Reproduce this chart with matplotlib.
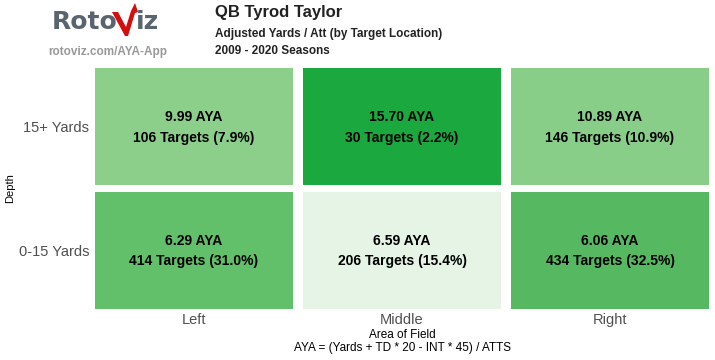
import matplotlib
matplotlib.use("Agg")
import matplotlib.pyplot as plt
from matplotlib.patches import Polygon

plt.rcParams['font.family'] = ['Liberation Sans', 'DejaVu Sans']

# Data
columns = ["Left", "Middle", "Right"]
rows = ["0-15 Yards", "15+ Yards"]
aya = [[6.29, 6.59, 6.06],
       [9.99, 15.70, 10.89]]
targets = [[414, 206, 434],
           [106, 30, 146]]
pct = [[31.0, 15.4, 32.5],
       [7.9, 2.2, 10.9]]

cell_colors = [["#63c06a", "#e5f4e4", "#56b962"],
               ["#8ccf8b", "#1aa83f", "#88cd88"]]

W, H = 715, 360
fig = plt.figure(figsize=(7.15, 3.6), dpi=100)
ax = fig.add_axes([90 / W, 1 - 312 / H, 624 / W, 247 / H])

for r in range(len(rows)):
    for c in range(len(columns)):
        ax.bar(c, 0.95, width=0.952, bottom=r - 0.475, color=cell_colors[r][c], linewidth=0)
        ax.text(c, r + 0.077, f"{aya[r][c]:.2f} AYA", ha="center", va="center",
                fontsize=10, fontweight="bold", color="black")
        ax.text(c, r - 0.088, f"{targets[r][c]} Targets ({pct[r][c]:.1f}%)", ha="center",
                va="center", fontsize=10, fontweight="bold", color="black")

ax.set_xlim(-0.5, 2.5)
ax.set_ylim(-0.5, 1.5)
ax.set_xticks(range(len(columns)))
ax.set_xticklabels(columns)
ax.set_yticks(range(len(rows)))
ax.set_yticklabels(rows)
ax.tick_params(length=0, labelsize=10.5, labelcolor="#505050")
ax.tick_params(axis="x", pad=1)
ax.tick_params(axis="y", pad=0.5)
for s in ax.spines.values():
    s.set_visible(False)

fig.text(10 / W, 1 - 188 / H, "Depth", rotation=90, ha="center", va="center", fontsize=8)
fig.text(402 / W, 1 - 335 / H, "Area of Field", ha="center", va="center", fontsize=8.5)
fig.text(402 / W, 1 - 348 / H, "AYA = (Yards + TD * 20 - INT * 45) / ATTS", ha="center",
         va="center", fontsize=8.5)

# header
fig.text(215 / W, 1 - 13 / H, "QB Tyrod Taylor", ha="left", va="center", fontsize=12,
         fontweight="bold", color="#222222")
fig.text(215 / W, 1 - 34 / H, "Adjusted Yards / Att (by Target Location)", ha="left",
         va="center", fontsize=8.5, fontweight="bold", color="#222222")
fig.text(215 / W, 1 - 51 / H, "2009 - 2020 Seasons", ha="left", va="center", fontsize=8.5,
         fontweight="bold", color="#222222")
fig.text(48 / W, 1 - 52 / H, "rotoviz.com/AYA-App", ha="left", va="center", fontsize=8.5,
         fontweight="bold", color="#999999")

# logo
logo_gray = "#59646e"
fig.text(52 / W, 1 - 29 / H, "Roto", ha="left", va="baseline", fontsize=18,
         fontweight="heavy", color=logo_gray, family="DejaVu Sans")
fig.text(136 / W, 1 - 29 / H, "iz", ha="left", va="baseline", fontsize=18,
         fontweight="heavy", color=logo_gray, family="DejaVu Sans")
bolt_px = [(112, 12), (118, 12), (126, 27), (131, 11), (135, 3), (138, 12), (135, 13),
           (128, 36), (125, 36)]
bolt = Polygon([(x / W, 1 - y / H) for x, y in bolt_px], closed=True, facecolor="#d40d0d",
               edgecolor="none", transform=fig.transFigure)
fig.add_artist(bolt)

fig.savefig("out.png", dpi=100)
